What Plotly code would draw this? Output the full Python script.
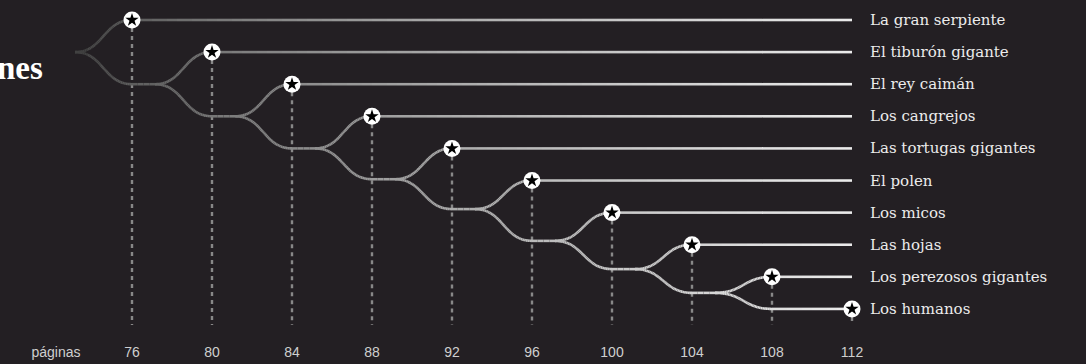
import numpy as np
import plotly.graph_objects as go

# chapter start pages (x) and chapter names, one row each
pages = [76, 80, 84, 88, 92, 96, 100, 104, 108, 112]
names = [
    "La gran serpiente",
    "El tiburón gigante",
    "El rey caimán",
    "Los cangrejos",
    "Las tortugas gigantes",
    "El polen",
    "Los micos",
    "Las hojas",
    "Los perezosos gigantes",
    "Los humanos",
]
# row level of the trunk that each fork starts from
trunk_rows = [1, 2, 3, 4, 4.96, 5.89, 6.88, 7.76, 8.5, 9]
axis_label = "páginas"
title_tail = "nes"

BG = "#231f23"
SPLIT = 2.85       # how far before a chapter the fork begins (pages)
PX_PER_PAGE = 20
X0_PAGE, X1_PAGE = 69.4, 123.7
Y_TOP, Y_BOT = -0.623, 10.03


def bezier(x0, y0, x1, y1, n=40):
    t = np.linspace(0, 1, n)
    cx0, cx1 = x0 + 0.5 * (x1 - x0), x1 - 0.5 * (x1 - x0)
    x = (1 - t) ** 3 * x0 + 3 * (1 - t) ** 2 * t * cx0 + 3 * (1 - t) * t ** 2 * cx1 + t ** 3 * x1
    y = (1 - t) ** 3 * y0 + 3 * (1 - t) ** 2 * t * y0 + 3 * (1 - t) * t ** 2 * y1 + t ** 3 * y1
    return x, y


def straight(x0, x1, y):
    n = max(2, int((x1 - x0) / 0.25) + 1)
    return np.linspace(x0, x1, n), np.full(n, float(y))


# build every path of the tree
paths = []
last = len(pages) - 1
for k in range(last):
    xs = pages[k] - SPLIT
    paths.append(bezier(xs, trunk_rows[k], pages[k], k))
    paths.append(bezier(xs, trunk_rows[k], pages[k], trunk_rows[k + 1]))
    paths.append(straight(pages[k], pages[last], k))
    end = pages[k + 1] - SPLIT if k + 1 < last else pages[last]
    paths.append(straight(pages[k], end, trunk_rows[k + 1]))


def to_px(p):
    return (p - X0_PAGE) * PX_PER_PAGE


def grey(px):
    t = min(max((px - 75) / 777, 0), 1)
    g = int(55 + 180 * t ** 0.6)
    return f"rgb({g},{g},{g})"


# split the paths into short pieces and group them by horizontal position -> gradient
n_bins = 60
bins = [([], []) for _ in range(n_bins)]
for x, y in paths:
    for i in range(len(x) - 1):
        mid = to_px((x[i] + x[i + 1]) / 2)
        b = int(np.clip((mid - 75) / 777 * n_bins, 0, n_bins - 1))
        bins[b][0].extend([x[i], x[i + 1], None])
        bins[b][1].extend([y[i], y[i + 1], None])

fig = go.Figure()

# dashed drop lines
dx, dy = [], []
for k, p in enumerate(pages):
    dx += [p, p, None]
    dy += [k, 9.5, None]
fig.add_trace(go.Scatter(
    x=dx, y=dy, mode="lines",
    line=dict(color="#888888", width=2.4, dash="4px,4px"),
    hoverinfo="skip",
))

for b, (bx, by) in enumerate(bins):
    if not bx:
        continue
    px = 75 + (b + 0.5) * 777 / n_bins
    fig.add_trace(go.Scatter(
        x=bx, y=by, mode="lines",
        line=dict(color=grey(px), width=2.6),
        hoverinfo="skip",
    ))

rows = list(range(len(pages)))
fig.add_trace(go.Scatter(
    x=pages, y=rows, mode="markers",
    marker=dict(symbol="circle", size=17, color="white"),
    hoverinfo="skip",
))
fig.add_trace(go.Scatter(
    x=pages, y=rows, mode="markers",
    marker=dict(symbol="star", size=10, color="black"),
    hoverinfo="skip",
))

for k, name in enumerate(names):
    fig.add_annotation(
        x=pages[last], y=k, text=name, showarrow=False,
        xanchor="left", yanchor="middle", xshift=16,
        font=dict(family="DejaVu Serif", size=15, color="#ececec"),
    )

fig.add_annotation(
    x=X0_PAGE + 45 / PX_PER_PAGE, y=1.5, text=f"<b>{title_tail}</b>",
    showarrow=False, xanchor="right", yanchor="middle",
    font=dict(family="Liberation Serif", size=33, color="white"),
)

fig.update_layout(
    width=1086,
    height=364,
    margin=dict(l=0, r=0, t=0, b=22),
    paper_bgcolor=BG,
    plot_bgcolor=BG,
    showlegend=False,
    hovermode=False,
    xaxis=dict(
        range=[X0_PAGE, X1_PAGE], fixedrange=True,
        showgrid=False, zeroline=False, showline=False, ticks="",
        tickvals=[72.2] + pages,
        ticktext=[axis_label] + [str(p) for p in pages],
        tickfont=dict(family="Liberation Sans", size=14, color="#cfcfcf"),
    ),
    yaxis=dict(range=[Y_BOT, Y_TOP], visible=False, fixedrange=True),
)

fig.write_html(
    "out.html",
    config={"displayModeBar": False, "staticPlot": True},
    post_script="document.body.style.margin='0';document.body.style.background='#231f23';",
)
